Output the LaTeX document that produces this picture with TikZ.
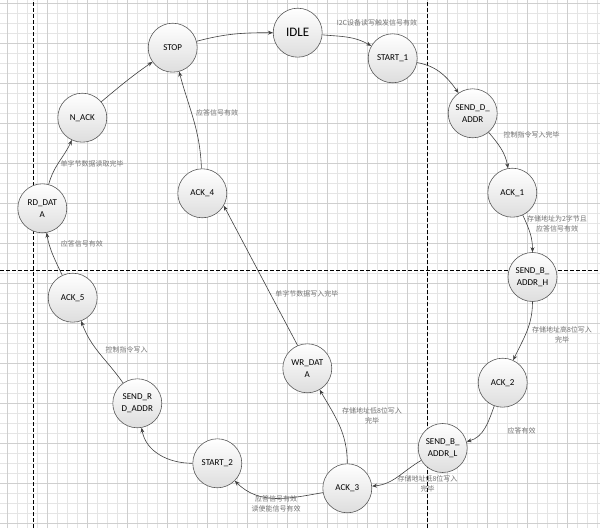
\documentclass[tikz,border=0pt]{standalone}
\usepackage{fontspec}
\setmainfont{Carlito}
\newfontfamily\cjk{Noto Sans CJK SC}
\usetikzlibrary{arrows.meta}

\begin{document}
\begin{tikzpicture}[x=1pt, y=1pt,
    state/.style={circle, draw=black!65, line width=0.6pt, top color=white, bottom color=black!13,
      minimum size=49pt, inner sep=0pt, align=center, font=\fontsize{9}{12}\selectfont},
    lbl/.style={font=\cjk\fontsize{7}{10}\selectfont, text=black!55, align=center, inner sep=0pt},
    trans/.style={->, >={Stealth[length=5pt, width=4pt]}, draw=black!75, line width=0.6pt},
    gridminor/.style={black!10, line width=0.5pt},
    gridmajor/.style={black!19, line width=0.5pt},
    divider/.style={black, line width=0.8pt, dash pattern=on 4pt off 2pt}]
  \useasboundingbox (0,0) rectangle (600,528);

  % Background grid
  \foreach \x in {7.3,17.3,...,597.3} \draw[gridminor] (\x,0) -- (\x,528);
  \foreach \y in {4.7,14.7,...,524.7} \draw[gridminor] (0,\y) -- (600,\y);
  \foreach \x in {7.3,47.3,...,567.3} \draw[gridmajor] (\x,0) -- (\x,528);
  \foreach \y in {4.7,44.7,...,524.7} \draw[gridmajor] (0,\y) -- (600,\y);

  % Page dividers
  \draw[divider] (33.3,0) -- (33.3,528);
  \draw[divider] (427.7,0) -- (427.7,528);
  \draw[divider] (0,257.7) -- (600,257.7);

  % States
  \node[state] (idle) at (297.7,495.3) {\fontsize{13}{15}\selectfont IDLE};
  \node[state] (stop) at (172.7,480.3) {STOP};
  \node[state] (start1) at (392.7,469.7) {START\_1};
  \node[state] (senddaddr) at (472.7,414.7) {SEND\_D\_\\ADDR};
  \node[state] (ack1) at (512.3,335.3) {ACK\_1};
  \node[state] (sendbh) at (532.5,251) {SEND\_B\_\\ADDR\_H};
  \node[state] (ack2) at (502.7,145.3) {ACK\_2};
  \node[state] (sendbl) at (442.7,80) {SEND\_B\_\\ADDR\_L};
  \node[state] (ack3) at (347.3,39.7) {ACK\_3};
  \node[state] (start2) at (217.3,64.7) {START\_2};
  \node[state] (sendrd) at (137.3,124.7) {SEND\_R\\D\_ADDR};
  \node[state] (ack5) at (72.7,230.3) {ACK\_5};
  \node[state] (rddata) at (42.3,319.7) {RD\_DAT\\A};
  \node[state] (nack) at (82.3,410.3) {N\_ACK};
  \node[state] (ack4) at (202.3,334.7) {ACK\_4};
  \node[state] (wrdata) at (307.3,159.7) {WR\_DAT\\A};

  % Transitions
  \draw[trans] (stop) to[out=15, in=180] (idle);
  \draw[trans] (idle) to[out=-5, in=150] (start1);
  \draw[trans] (start1) to[out=-10, in=125] (senddaddr);
  \draw[trans] (senddaddr) to[out=-50, in=100] (ack1);
  \draw[trans] (ack1) to[out=-65, in=90] (sendbh);
  \draw[trans] (sendbh) to[out=-90, in=65] (ack2);
  \draw[trans] (ack2) to[out=-110, in=15] (sendbl);
  \draw[trans] (sendbl) to[out=210, in=5] (ack3);
  \draw[trans] (ack3) to[out=90, in=-60] (wrdata);
  \draw[trans] (wrdata.113) -- (ack4.-30);
  \draw[trans] (ack4) to[out=92, in=-75] (stop);
  \draw[trans] (ack3) to[out=190, in=-45] (start2);
  \draw[trans] (start2) to[out=180, in=-80] (sendrd);
  \draw[trans] (sendrd) to[out=125, in=-70] (ack5);
  \draw[trans] (ack5) to[out=115, in=-80] (rddata);
  \draw[trans] (rddata) to[out=75, in=-115] (nack);
  \draw[trans] (nack) to[out=40, in=215] (stop);

  % Conditions
  \node[lbl] (trig) at (377,505) {I2C设备读写触发信号有效};
  \node[lbl] (ctrldone) at (531.7,393) {控制指令写入完毕};
  \node[lbl] (twobyte) at (557,304) {存储地址为2字节且\\应答信号有效};
  \node[lbl] (highdone) at (562,192.7) {存储地址高8位写入\\完毕};
  \node[lbl] (ackok) at (521.7,97.3) {应答有效};
  \node[lbl] (lowdone) at (427.5,43.7) {存储地址低8位写入\\完毕};
  \node[lbl] (lowdone2) at (372,112.2) {存储地址低8位写入\\完毕};
  \node[lbl] (rden) at (276,23.8) {应答信号有效\\读使能信号有效};
  \node[lbl] (ctrlwr) at (126.7,178) {控制指令写入};
  \node[lbl] (ackrd) at (81.8,284) {应答信号有效};
  \node[lbl] (rdone) at (92.2,364) {单字节数据读取完毕};
  \node[lbl] (wdone) at (306.8,233.7) {单字节数据写入完毕};
  \node[lbl] (ackwr) at (217.2,415.3) {应答信号有效};
\end{tikzpicture}
\end{document}
